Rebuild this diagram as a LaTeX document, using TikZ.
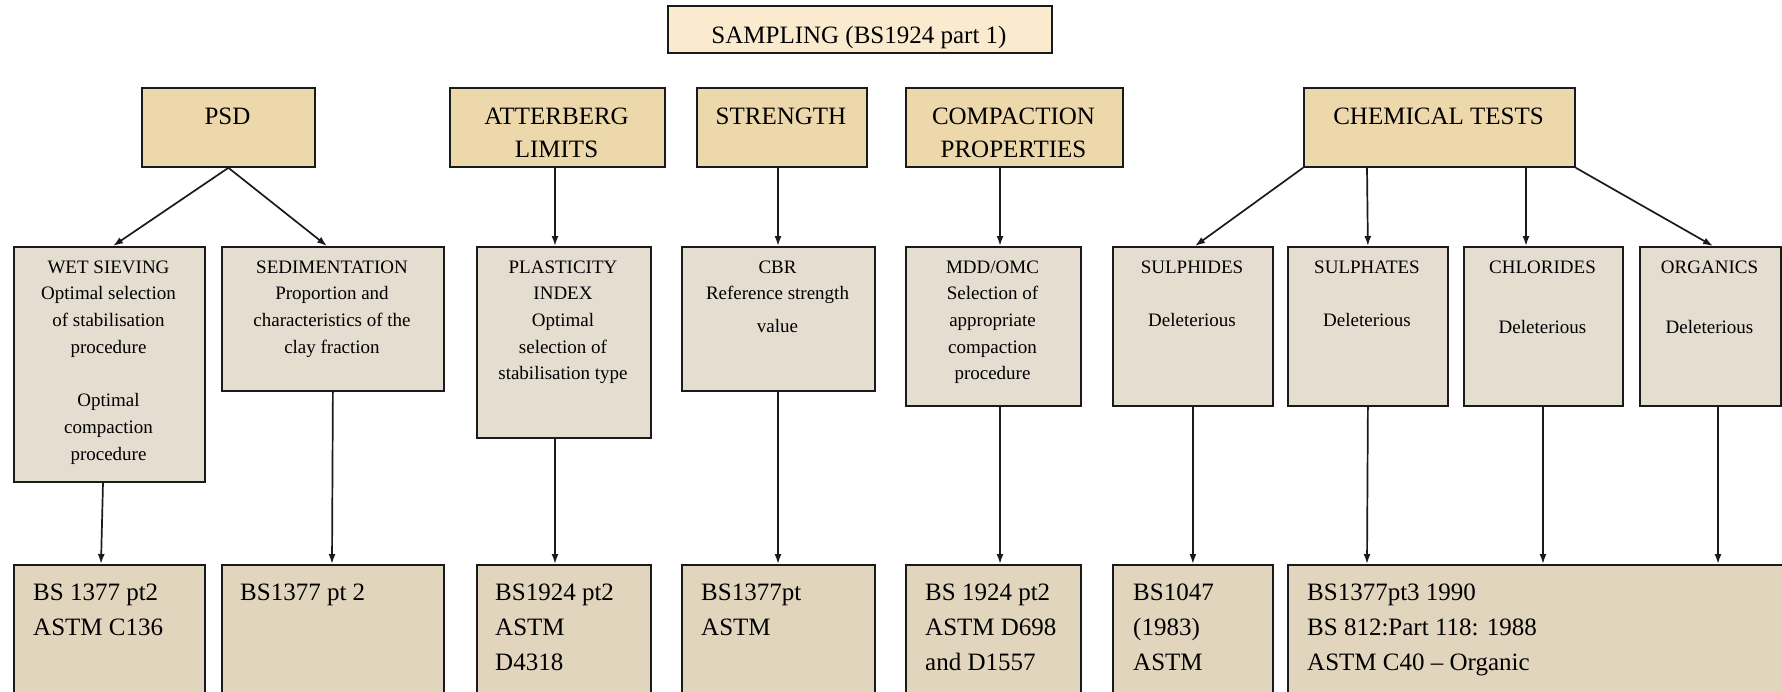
\documentclass[tikz,border=0pt]{standalone}
\usepackage{fontspec}
\setmainfont{Liberation Serif}
\usetikzlibrary{arrows.meta}
\definecolor{sampfill}{HTML}{FAEBCF}
\definecolor{topfill}{HTML}{EDD8AC}
\definecolor{midfill}{HTML}{E5DDCF}
\definecolor{botfill}{HTML}{E2D5BD}
\definecolor{edge}{HTML}{1A1A1A}
\tikzset{
  box/.style={draw=edge, line width=1.8pt, anchor=north west, inner sep=0pt},
  sampbox/.style={box, fill=sampfill},
  topbox/.style={box, fill=topfill},
  midbox/.style={box, fill=midfill},
  botbox/.style={box, fill=botfill},
  toptext/.style={anchor=north, align=center, inner sep=0pt, font=\fontsize{25}{33}\selectfont},
  midtext/.style={anchor=north, align=center, inner sep=0pt, font=\fontsize{19}{26.7}\selectfont},
  bottext/.style={anchor=north west, align=left, inner sep=0pt, font=\fontsize{25}{35}\selectfont},
  arr/.style={-{Latex[length=10pt,width=7pt]}, line width=1.7pt, draw=edge},
}
\begin{document}
\begin{tikzpicture}[x=1pt,y=-1pt]
\useasboundingbox (0,0) rectangle (1782,691);
% ---- top row
\node[sampbox, minimum width=384pt, minimum height=47pt] (samp) at (667,5) {};
\node[toptext] (sampT) at (859,19.9) {\strut SAMPLING (BS1924 part 1)};
\node[topbox, minimum width=173pt, minimum height=79pt] (psd) at (141,87) {};
\node[topbox, minimum width=215pt, minimum height=79pt] (att) at (449,87) {};
\node[topbox, minimum width=170pt, minimum height=79pt] (str) at (696,87) {};
\node[topbox, minimum width=217pt, minimum height=79pt] (comp) at (905,87) {};
\node[topbox, minimum width=271pt, minimum height=79pt] (chem) at (1303,87) {};
\node[toptext] (psdT) at (227.5,100.9) {\strut PSD};
\node[toptext] (attT) at (556.5,100.9) {\strut ATTERBERG\\LIMITS};
\node[toptext] (strT) at (781,100.9) {\strut STRENGTH};
\node[toptext] (compT) at (1013.5,100.9) {\strut COMPACTION\\PROPERTIES};
\node[toptext] (chemT) at (1438.5,100.9) {\strut CHEMICAL TESTS};
% ---- middle row
\node[midbox, minimum width=191pt, minimum height=235pt] (wet) at (13,246) {};
\node[midbox, minimum width=222pt, minimum height=144pt] (sed) at (221,246) {};
\node[midbox, minimum width=174pt, minimum height=191pt] (pi) at (476,246) {};
\node[midbox, minimum width=193pt, minimum height=144pt] (cbr) at (681,246) {};
\node[midbox, minimum width=175pt, minimum height=159pt] (mdd) at (905,246) {};
\node[midbox, minimum width=160pt, minimum height=159pt] (sulphides) at (1112,246) {};
\node[midbox, minimum width=160pt, minimum height=159pt] (sulphates) at (1287,246) {};
\node[midbox, minimum width=159pt, minimum height=159pt] (chlorides) at (1463,246) {};
\node[midbox, minimum width=141pt, minimum height=159pt] (organics) at (1639,246) {};
\node[midtext] (wetT) at (108.5,254.3) {\strut WET SIEVING\\Optimal selection\\of stabilisation\\procedure\\[26.7pt]Optimal\\compaction\\procedure};
\node[midtext] (sedT) at (332,254.3) {\strut SEDIMENTATION\\Proportion and\\characteristics of the\\clay fraction};
\node[midtext] (piT) at (563,254.3) {\strut PLASTICITY\\INDEX\\Optimal\\selection of\\stabilisation type};
\node[midtext] (cbrT) at (777.5,254.3) {\strut CBR\\Reference strength\\[6pt]value};
\node[midtext] (mddT) at (992.5,254.3) {\strut MDD/OMC\\Selection of\\appropriate\\compaction\\procedure};
\node[midtext] (sulphidesT) at (1192,254.3) {\strut SULPHIDES\\[26.7pt]Deleterious};
\node[midtext] (sulphatesT) at (1367,254.3) {\strut SULPHATES\\[26.7pt]Deleterious};
\node[midtext] (chloridesT) at (1542.5,254.3) {\strut CHLORIDES\\[34pt]Deleterious};
\node[midtext] (organicsT) at (1709.5,254.3) {\strut ORGANICS\\[34pt]Deleterious};
% ---- bottom row
\node[botbox, minimum width=191pt, minimum height=140pt] (b1) at (13,564) {};
\node[botbox, minimum width=222pt, minimum height=140pt] (b2) at (221,564) {};
\node[botbox, minimum width=174pt, minimum height=140pt] (b3) at (476,564) {};
\node[botbox, minimum width=193pt, minimum height=140pt] (b4) at (681,564) {};
\node[botbox, minimum width=175pt, minimum height=140pt] (b5) at (905,564) {};
\node[botbox, minimum width=160pt, minimum height=140pt] (b6) at (1112,564) {};
\node[botbox, minimum width=510pt, minimum height=140pt] (b7) at (1287,564) {};
\node[bottext] (b1T) at (33,575.5) {\strut BS 1377 pt2\\ASTM C136};
\node[bottext] (b2T) at (240,575.5) {\strut BS1377 pt 2};
\node[bottext] (b3T) at (495,575.5) {\strut BS1924 pt2\\ASTM\\D4318};
\node[bottext] (b4T) at (701,575.5) {\strut BS1377pt\\ASTM};
\node[bottext] (b5T) at (925,575.5) {\strut BS 1924 pt2\\ASTM D698\\and D1557};
\node[bottext] (b6T) at (1133,575.5) {\strut BS1047\\(1983)\\ASTM};
\node[bottext] (b7T) at (1307,575.5) {\strut BS1377pt3 1990\\BS 812:Part 118: 1988\\ASTM C40 -- Organic};
% ---- connectors top -> middle
\draw[arr] (psd.south) -- ([xshift=100pt]wet.north west);
\draw[arr] (psd.south) -- ([xshift=106pt]sed.north west);
\draw[arr] ([xshift=106pt]att.south west) -- ([xshift=79pt]pi.north west);
\draw[arr] ([xshift=82pt]str.south west) -- ([xshift=97pt]cbr.north west);
\draw[arr] ([xshift=95pt]comp.south west) -- ([xshift=95pt]mdd.north west);
\draw[arr] (chem.south west) -- ([xshift=83pt]sulphides.north west);
\draw[arr] ([xshift=64pt]chem.south west) -- (sulphates.north);
\draw[arr] ([xshift=223pt]chem.south west) -- ([xshift=63pt]chlorides.north west);
\draw[arr] (chem.south east) -- ([xshift=74pt]organics.north west);
% ---- connectors middle -> bottom
\draw[arr] ([xshift=90pt]wet.south west) -- ([xshift=88pt]b1.north west);
\draw[arr] (sed.south) -- ([xshift=111pt]b2.north west);
\draw[arr] ([xshift=79pt]pi.south west) -- ([xshift=79pt]b3.north west);
\draw[arr] ([xshift=97pt]cbr.south west) -- ([xshift=97pt]b4.north west);
\draw[arr] ([xshift=95pt]mdd.south west) -- ([xshift=95pt]b5.north west);
\draw[arr] (sulphides.south) -- (b6.north);
\draw[arr] (sulphates.south) -- ([xshift=80pt]b7.north west);
\draw[arr] ([xshift=80pt]chlorides.south west) -- ([xshift=256pt]b7.north west);
\draw[arr] ([xshift=79pt]organics.south west) -- ([xshift=431pt]b7.north west);
\end{tikzpicture}
\end{document}
